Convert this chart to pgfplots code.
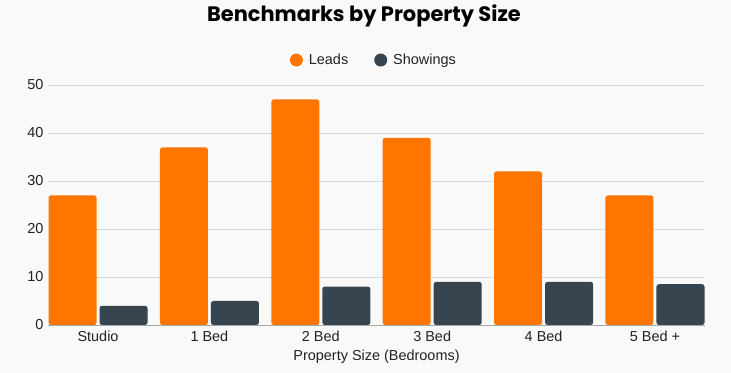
\documentclass[border=0pt]{standalone}
\usepackage{pgfplots}
\pgfplotsset{compat=1.18}
\usepackage{fontspec}
\setmainfont{Liberation Sans}
\newfontfamily\titlefont{Poppins}
\definecolor{bgc}{HTML}{F9F9F9}
\definecolor{leadc}{HTML}{FF7500}
\definecolor{showc}{HTML}{374551}
\definecolor{gridc}{HTML}{D9D9D9}
\definecolor{txtc}{HTML}{222222}
\begin{document}
\begin{tikzpicture}
\fill[bgc] (0,0) rectangle (731bp,373bp);
\node[font=\titlefont\bfseries\fontsize{21}{24}\selectfont, text=black] at (364bp,357bp) {Benchmarks by Property Size};
\begin{axis}[
  at={(48bp,48bp)}, anchor=south west,
  scale only axis, width=657bp, height=240bp,
  ybar, bar width=0.431,
  xmin=-0.449, xmax=5.449, ymin=0, ymax=50,
  xtick={0,1,2,3,4,5},
  xticklabels={Studio,1 Bed,2 Bed,3 Bed,4 Bed,5 Bed +},
  ytick={0,10,20,30,40,50},
  ymajorgrids, grid style={gridc, line width=0.8pt},
  axis line style={draw=none},
  axis x line*=bottom, axis y line*=left,
  major tick length=0pt,
  tick label style={font=\fontsize{14.5}{17}\selectfont, text=txtc},
  /pgf/number format/assume math mode=true,
  xlabel={Property Size (Bedrooms)},
  xlabel style={font=\fontsize{14.5}{17}\selectfont, text=txtc, yshift=-1bp},
  yticklabel style={xshift=-1bp},
  xticklabel style={yshift=-3bp},
  legend style={at={(0.496,1.104)}, anchor=center, draw=none, fill=none,
    legend columns=2, font=\fontsize{14.5}{17}\selectfont, text=txtc,
    /tikz/every even column/.append style={column sep=24bp}},
  legend image code/.code={\fill[#1, draw=none] (2bp,0bp) circle (6.5bp);},
  clip=false,
]
\addplot[fill=leadc, draw=none, bar shift=-0.229, rounded corners=2.5bp] coordinates {(0,27) (1,37) (2,47) (3,39) (4,32) (5,27)};
\addplot[fill=showc, draw=none, bar shift=0.229, rounded corners=2.5bp] coordinates {(0,4) (1,5) (2,8) (3,9) (4,9) (5,8.5)};
\legend{\hspace{4bp}Leads,\hspace{4bp}Showings}
\draw[color=gray!70, line width=1pt] (axis cs:-0.449,0) -- (axis cs:5.449,0);
\end{axis}
\end{tikzpicture}
\end{document}
